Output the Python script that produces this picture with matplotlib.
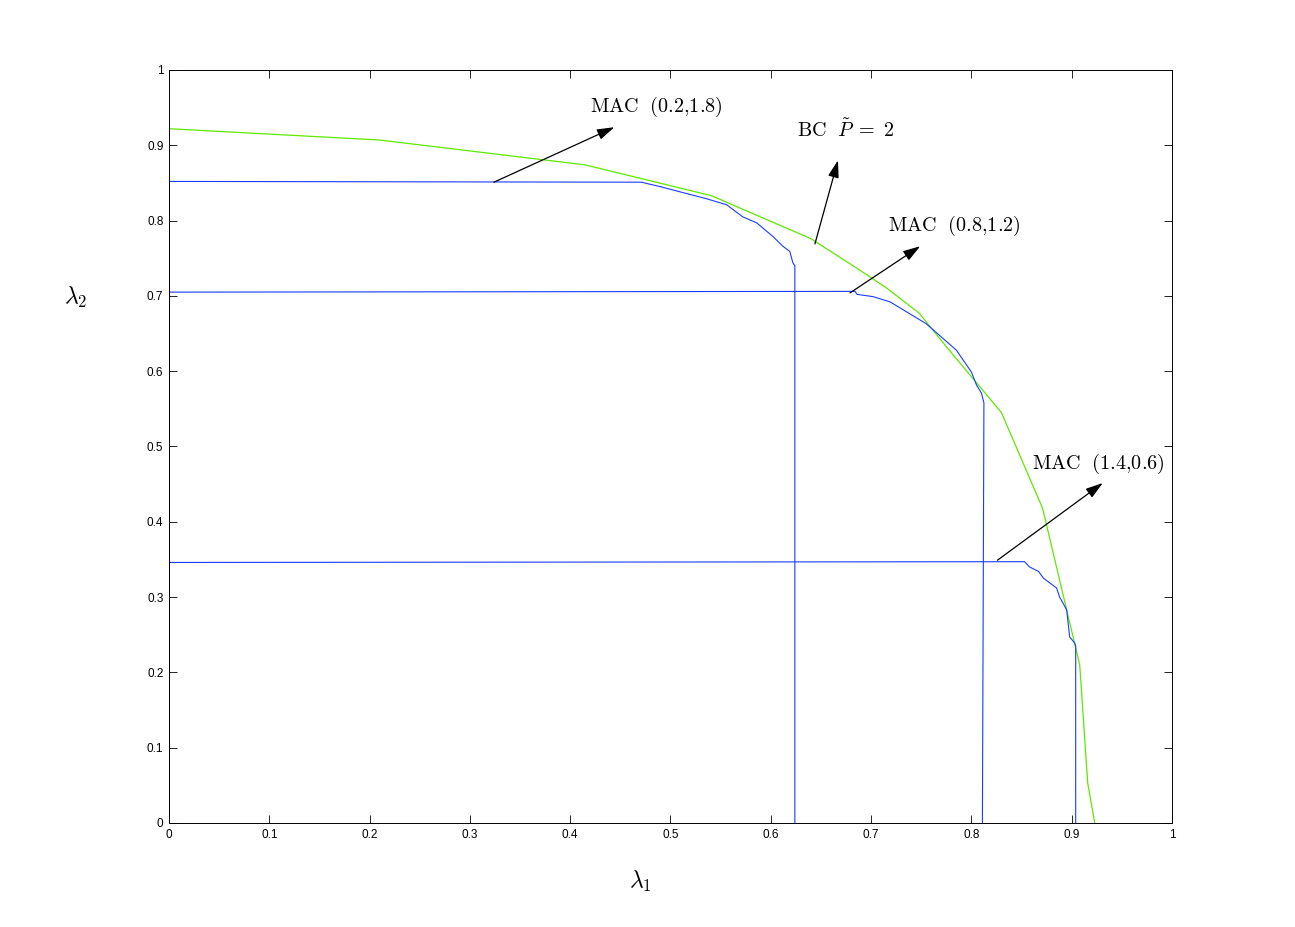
import matplotlib
matplotlib.use("Agg")
import matplotlib.pyplot as plt

plt.rcParams['mathtext.fontset'] = 'cm'
plt.rcParams['font.family'] = ['Liberation Sans', 'DejaVu Sans']

# BC region boundary (P~ = 2)
bc_x = [0.0, 0.21, 0.415, 0.541, 0.64, 0.689, 0.716, 0.748, 0.776, 0.830, 0.871, 0.908, 0.916, 0.923]
bc_y = [0.922, 0.907, 0.874, 0.833, 0.776, 0.734, 0.710, 0.677, 0.631, 0.545, 0.418, 0.210, 0.053, 0.0]

# MAC (0.2, 1.8)
mac1_x = [0.0, 0.0, 0.471, 0.49, 0.536, 0.556, 0.572, 0.586, 0.602, 0.612, 0.619, 0.622, 0.624, 0.624]
mac1_y = [0.0, 0.852, 0.851, 0.845, 0.829, 0.821, 0.805, 0.797, 0.779, 0.766, 0.759, 0.744, 0.740, 0.0]

# MAC (0.8, 1.2)
mac2_x = [0.0, 0.0, 0.684, 0.686, 0.702, 0.719, 0.755, 0.785, 0.800, 0.805, 0.810, 0.8125, 0.811]
mac2_y = [0.0, 0.705, 0.706, 0.702, 0.699, 0.692, 0.663, 0.628, 0.599, 0.582, 0.571, 0.558, 0.0]

# MAC (1.4, 0.6)
mac3_x = [0.0, 0.0, 0.853, 0.858, 0.867, 0.872, 0.885, 0.888, 0.895, 0.898, 0.903, 0.904, 0.904]
mac3_y = [0.0, 0.346, 0.347, 0.340, 0.334, 0.325, 0.312, 0.300, 0.283, 0.247, 0.239, 0.235, 0.0]

ticks = [0, 0.1, 0.2, 0.3, 0.4, 0.5, 0.6, 0.7, 0.8, 0.9, 1]
tick_labels = ['0', '0.1', '0.2', '0.3', '0.4', '0.5', '0.6', '0.7', '0.8', '0.9', '1']

# annotations: text, text position, arrow tail, arrow head
annotations = [
    (r'$\mathrm{MAC}\ \ (0.2{,}1.8)$', (0.42, 0.951), (0.324, 0.851), (0.444, 0.924)),
    (r'$\mathrm{BC}\ \ \tilde{P}\;{=}\;2$', (0.626, 0.920), (0.644, 0.769), (0.667, 0.880)),
    (r'$\mathrm{MAC}\ \ (0.8{,}1.2)$', (0.717, 0.793), (0.679, 0.704), (0.749, 0.766)),
    (r'$\mathrm{MAC}\ \ (1.4{,}0.6)$', (0.860, 0.477), (0.826, 0.349), (0.931, 0.4515)),
]

fig = plt.figure(figsize=(12.95, 9.27), dpi=100)
ax = fig.add_axes([0.1305, 0.1122, 0.7745, 0.8123])

blue = '#1a3cff'
green = '#5fe800'
ax.plot(bc_x, bc_y, color=green, lw=0.9)
ax.plot(mac1_x, mac1_y, color=blue, lw=0.8)
ax.plot(mac2_x, mac2_y, color=blue, lw=0.8)
ax.plot(mac3_x, mac3_y, color=blue, lw=0.8)

for txt, tpos, tail, head in annotations:
    ax.annotate('', xy=head, xytext=tail,
                arrowprops=dict(arrowstyle='-|>,head_length=0.7,head_width=0.22',
                                color='black', lw=0.9,
                                mutation_scale=15, shrinkA=0, shrinkB=0))
    ax.text(tpos[0], tpos[1], txt, fontsize=14.5, ha='left', va='center')

ax.set_xlim(0, 1)
ax.set_ylim(0, 1)
ax.set_xticks(ticks)
ax.set_xticklabels(tick_labels)
ax.set_yticks(ticks)
ax.set_yticklabels(tick_labels)
ax.tick_params(direction='in', top=True, right=True, length=6, width=0.6, labelsize=8.5, pad=4)
for s in ax.spines.values():
    s.set_linewidth(0.7)

# axis labels placed as in the reference
ax.text(0.47, -0.078, r'$\lambda_1$', fontsize=17, ha='center', va='center',
        transform=ax.transAxes)
ax.text(-0.093, 0.698, r'$\lambda_2$', fontsize=17, ha='center', va='center',
        transform=ax.transAxes)

fig.savefig('out.png', dpi=100)
